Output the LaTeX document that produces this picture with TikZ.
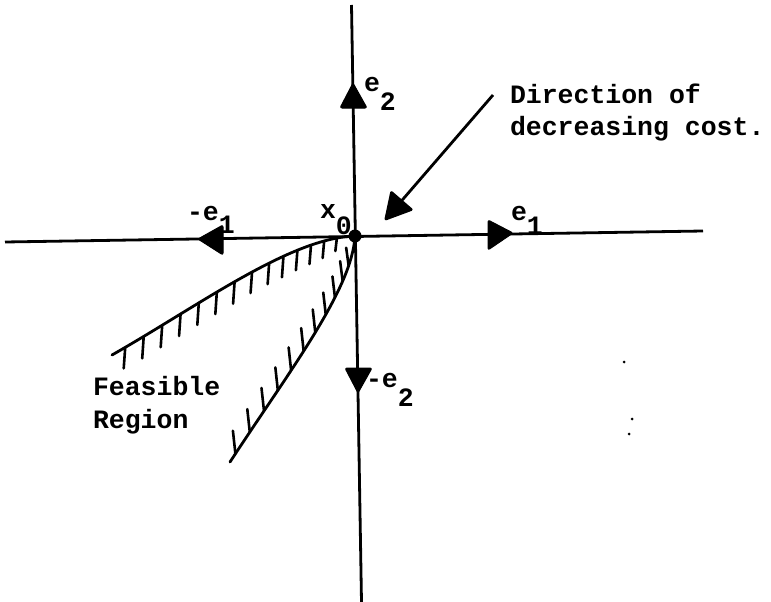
\documentclass[tikz,border=0pt]{standalone}
\usepackage{fontspec}
\setmonofont{Liberation Mono}
\usetikzlibrary{arrows.meta}
\newcommand\lowsub[2]{\raisebox{-#1pt}{#2}}
\begin{document}
\begin{tikzpicture}[x=1pt,y=-1pt,
  axis/.style={line width=2.8pt},
  bound/.style={line width=2.8pt, line cap=round},
  hatch/.style={line width=2.6pt, line cap=round},
  tri/.style={fill=black, draw=black, line width=1pt, rounded corners=2pt, line join=round},
  lbl/.style={anchor=base west, inner sep=0pt, outer sep=0pt, font=\ttfamily\bfseries\fontsize{26.5}{32}\selectfont},
  speck/.style={fill=black}
]
\fill[white] (0,0) rectangle (771,602);
\useasboundingbox (0,0) rectangle (771,602);

% axes
\coordinate (vtop) at (351.5,5);
\coordinate (vbot) at (361.5,602);
\coordinate (hl) at (5,242);
\coordinate (hr) at (703,231);
\coordinate (o) at (355,236);
\draw[axis] (vbot) -- (vtop);
\draw[axis] (hl) -- (hr);

% direction triangles
\filldraw[tri] (353,83) -- (340,108) -- (367,108) -- cycle;
\filldraw[tri] (345,368) -- (372,368) -- (358,393) -- cycle;
\filldraw[tri] (488,220) -- (513,233) -- (488,250) -- cycle;
\filldraw[tri] (198,239) -- (223,225) -- (223,255) -- cycle;

% feasible region boundaries
\coordinate (ua) at (112,355);
\coordinate (la) at (230,462);
\draw[bound] (ua) .. controls (200,305) and (290,238) .. (o);
\draw[bound] (la) .. controls (290,370) and (352,290) .. (o);

% hatching
\foreach \pp/\len in {0.05/21,0.12/22,0.19/22,0.26/22,0.33/22,0.40/22,0.47/22,0.54/21,0.61/21,0.67/21,0.73/20,0.79/19,0.85/17,0.91/13}{
  \path (ua) .. controls (200,305) and (290,238) .. (o) coordinate[pos=\pp] (hu);
  \draw[hatch] (hu) -- ++(-1.5,\len);
}
\foreach \pp/\len in {0.03/23,0.11/23,0.19/23,0.27/23,0.35/23,0.43/23,0.51/23,0.59/22,0.67/21,0.75/20,0.83/18}{
  \path (la) .. controls (290,370) and (352,290) .. (o) coordinate[pos=\pp] (hw);
  \draw[hatch] (hw) -- ++(-2.5,-\len);
}

% origin point
\fill (o) circle (6.5);

% direction of decreasing cost
\coordinate (ds) at (493,95);
\coordinate (dt) at (385,220);
\draw[line width=2.8pt, -{Triangle[length=28pt,width=30pt,round]}] (ds) -- (dt);

% labels
\node[lbl] (le2) at (364,92) {e\lowsub{19}{2}};
\node[lbl] (lme2) at (366,387) {-e\lowsub{19}{2}};
\node[lbl] (le1) at (511,220) {e\lowsub{14}{1}};
\node[lbl] (lme1) at (187,220) {-e\lowsub{13}{1}};
\node[lbl] (lx0) at (320,218) {x\lowsub{16}{0}};
\node[lbl] (dir1) at (510,103) {Direction of};
\node[lbl] (dir2) at (510,135) {decreasing cost.};
\node[lbl] (fr1) at (93,395) {Feasible};
\node[lbl] (fr2) at (93,428) {Region};

% specks
\fill[speck] (624,362) circle (1.5);
\fill[speck] (632,419) circle (1.5);
\fill[speck] (629,434) circle (1.5);
\end{tikzpicture}
\end{document}
